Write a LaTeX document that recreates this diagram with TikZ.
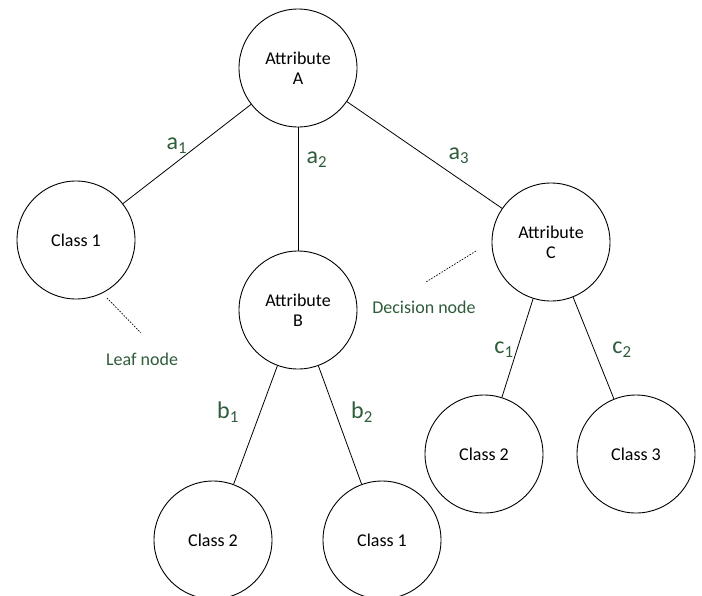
\documentclass[tikz,border=0pt]{standalone}
\usepackage{fontspec}
\setmainfont{Carlito}
\usepackage{tikz}
\usetikzlibrary{positioning}

\definecolor{lblgreen}{RGB}{47,92,58}

\begin{document}
\begin{tikzpicture}[
  x=1pt, y=-1pt,
  on grid,
  treenode/.style={circle, draw=black, line width=0.9pt, minimum size=118pt, inner sep=0pt, align=center, font=\fontsize{18}{22}\selectfont},
  branch/.style={line width=0.8pt},
  lbl/.style={text=lblgreen, inner sep=0pt, font=\fontsize{24}{26}\selectfont},
  note/.style={text=lblgreen, inner sep=0pt, font=\fontsize{18}{22}\selectfont},
  pointer/.style={line width=0.7pt, dash pattern=on 1.6pt off 1.4pt},
]
\useasboundingbox (0,0) rectangle (702,595);

% tree
\node[treenode] (attrA) at (298,68) {Attribute\\[-2pt]A};
\node[treenode, below left=172pt and 222pt of attrA] (leafA) {Class 1};
\node[treenode, below=242pt of attrA] (attrB) {Attribute\\[-2pt]B};
\node[treenode, below right=174pt and 253pt of attrA] (attrC) {Attribute\\[-2pt]C};
\node[treenode, below left=230pt and 85pt of attrB] (leafBa) {Class 2};
\node[treenode, below right=230pt and 84pt of attrB] (leafBb) {Class 1};
\node[treenode, below left=212pt and 67pt of attrC] (leafCa) {Class 2};
\node[treenode, below right=212pt and 85pt of attrC] (leafCb) {Class 3};

\draw[branch] (attrA) -- (leafA);
\draw[branch] (attrA) -- (attrB);
\draw[branch] (attrA) -- (attrC);
\draw[branch] (attrB) -- (leafBa);
\draw[branch] (attrB) -- (leafBb);
\draw[branch] (attrC) -- (leafCa);
\draw[branch] (attrC) -- (leafCb);

% branch labels
\node[lbl] (lblA1) at (177,146) {a\textsubscript{1}};
\node[lbl] (lblA2) at (317,160) {a\textsubscript{2}};
\node[lbl] (lblA3) at (459,156) {a\textsubscript{3}};
\node[lbl] (lblB1) at (228,412) {b\textsubscript{1}};
\node[lbl] (lblB2) at (362,412) {b\textsubscript{2}};
\node[lbl] (lblC1) at (504,350) {c\textsubscript{1}};
\node[lbl] (lblC2) at (622,350) {c\textsubscript{2}};

% annotations
\node[note] (leafnote) at (142,359) {Leaf node};
\node[note] (decnote) at (424,307) {Decision node};
\coordinate (leafptA) at (107,298);
\coordinate (leafptB) at (141,333);
\coordinate (decptA) at (476,251);
\coordinate (decptB) at (426,282);
\draw[pointer] (leafptA) -- (leafptB);
\draw[pointer] (decptA) -- (decptB);
\end{tikzpicture}
\end{document}
